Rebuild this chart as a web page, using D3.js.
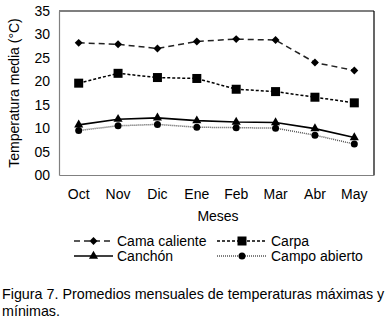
<!DOCTYPE html>
<html lang="es">
<head>
    <meta charset="UTF-8">
    <script src="https://cdn.jsdelivr.net/npm/d3@7"></script>
    <title>Figura 7</title>
    <style>
        body { margin: 0; background: #fff; }
        text { font-family: "Liberation Sans", Arial, sans-serif; }
    </style>
</head>
<body>
<script>

    // datos
    let months = ["Oct", "Nov", "Dic", "Ene", "Feb", "Mar", "Abr", "May"]
    let camaCaliente = [28.2, 27.9, 27.0, 28.5, 29.0, 28.8, 24.0, 22.3]
    let carpa = [19.6, 21.7, 20.8, 20.6, 18.3, 17.8, 16.6, 15.4]
    let canchon = [10.7, 11.9, 12.2, 11.6, 11.3, 11.2, 9.9, 8.0]
    let campoAbierto = [9.5, 10.5, 10.8, 10.2, 10.1, 10.0, 8.5, 6.6]
    let yTicks = [0, 5, 10, 15, 20, 25, 30, 35]
    let seriesNames = ["Cama caliente", "Carpa", "Canchón", "Campo abierto"]

    let width = 385,
        height = 325,
        plotLeft = 59, plotRight = 374, plotTop = 11, plotBottom = 175

    let x = d3.scaleBand().domain(months).range([plotLeft, plotRight]),
        y = d3.scaleLinear().domain([0, 35]).range([plotBottom, plotTop])

    let series = [
        {name: seriesNames[0], values: camaCaliente, dash: "6,4", color: "#222", marker: "diamond"},
        {name: seriesNames[1], values: carpa, dash: "3,2", color: "#000", marker: "square"},
        {name: seriesNames[2], values: canchon, dash: null, color: "#000", marker: "triangle"},
        {name: seriesNames[3], values: campoAbierto, dash: "1,1", color: "#555", marker: "circle"}
    ]

    let svg = d3.select("body").append("svg")
        .attr("width", width)
        .attr("height", height)

    // marco
    svg.append("line").attr("x1", plotLeft).attr("x2", plotRight).attr("y1", plotTop).attr("y2", plotTop)
        .attr("stroke", "#000").attr("stroke-width", 1.2)
    svg.append("line").attr("x1", plotRight).attr("x2", plotRight).attr("y1", plotTop).attr("y2", plotBottom)
        .attr("stroke", "#000").attr("stroke-width", 1.2)

    let yAxis = svg.append("g")
        .attr("transform", "translate(" + plotLeft + ",0)")
        .call(d3.axisLeft(y).tickValues(yTicks).tickSize(0).tickPadding(9).tickFormat(d3.format("02d")))
    yAxis.select(".domain").attr("stroke", "#808080").attr("stroke-width", 1.2)
    yAxis.selectAll("text").attr("font-size", 14).attr("fill", "#000")
        .attr("font-family", "Liberation Sans, Arial, sans-serif")

    let xAxis = svg.append("g")
        .attr("transform", "translate(0," + plotBottom + ")")
        .call(d3.axisBottom(x).tickSize(0).tickPadding(14))
    xAxis.select(".domain").attr("stroke", "#808080").attr("stroke-width", 1.2)
    xAxis.selectAll("text").attr("font-size", 14).attr("fill", "#000")
        .attr("font-family", "Liberation Sans, Arial, sans-serif")

    svg.append("text")
        .attr("transform", "translate(19," + ((plotTop + plotBottom) / 2) + ") rotate(-90)")
        .attr("text-anchor", "middle")
        .attr("font-size", 14)
        .text("Temperatura media (°C)")

    svg.append("text")
        .attr("x", 218).attr("y", 221)
        .attr("text-anchor", "middle")
        .attr("font-size", 14)
        .text("Meses")

    function drawMarker(g, type, cx, cy) {
        if (type === "diamond") {
            g.append("path").attr("d", d3.symbol(d3.symbolDiamond2, 40)())
                .attr("transform", "translate(" + cx + "," + cy + ")").attr("fill", "#000")
        } else if (type === "square") {
            g.append("rect").attr("x", cx - 4.5).attr("y", cy - 4.5).attr("width", 9).attr("height", 9)
                .attr("fill", "#000")
        } else if (type === "triangle") {
            g.append("path").attr("d", d3.symbol(d3.symbolTriangle, 36)())
                .attr("transform", "translate(" + cx + "," + cy + ")").attr("fill", "#000")
        } else {
            g.append("circle").attr("cx", cx).attr("cy", cy).attr("r", 3.5).attr("fill", "#000")
        }
    }

    let line = d3.line()
        .x((d, i) => x(months[i]) + x.bandwidth() / 2)
        .y(d => y(d))

    // dibujar de abajo hacia arriba
    series.slice().reverse().forEach(function (s) {
        let g = svg.append("g")
        g.append("path")
            .attr("d", line(s.values))
            .attr("fill", "none")
            .attr("stroke", s.color)
            .attr("stroke-width", s.marker === "triangle" ? 1.6 : 1.5)
            .attr("stroke-dasharray", s.dash)
        s.values.forEach(function (v, i) {
            drawMarker(g, s.marker, x(months[i]) + x.bandwidth() / 2, y(v))
        })
    })

    // leyenda
    let legendPos = [[74, 241], [217, 241], [74, 256], [217, 256]]
    series.forEach(function (s, i) {
        let lx = legendPos[i][0], ly = legendPos[i][1]
        let lw = i % 2 === 0 ? 39 : 50
        let g = svg.append("g")
        g.append("line").attr("x1", lx).attr("x2", lx + lw).attr("y1", ly).attr("y2", ly)
            .attr("stroke", s.color).attr("stroke-width", 1.5).attr("stroke-dasharray", s.dash)
        drawMarker(g, s.marker, lx + lw / 2, ly)
        g.append("text").attr("x", lx + lw + 4).attr("y", ly + 5)
            .attr("font-size", 14).text(s.name)
    })

    svg.append("text").attr("x", 2).attr("y", 299).attr("font-size", 14.3)
        .text("Figura 7. Promedios mensuales de temperaturas máximas y")
    svg.append("text").attr("x", 2).attr("y", 316).attr("font-size", 14.3)
        .text("mínimas.")

</script>
</body>
</html>
